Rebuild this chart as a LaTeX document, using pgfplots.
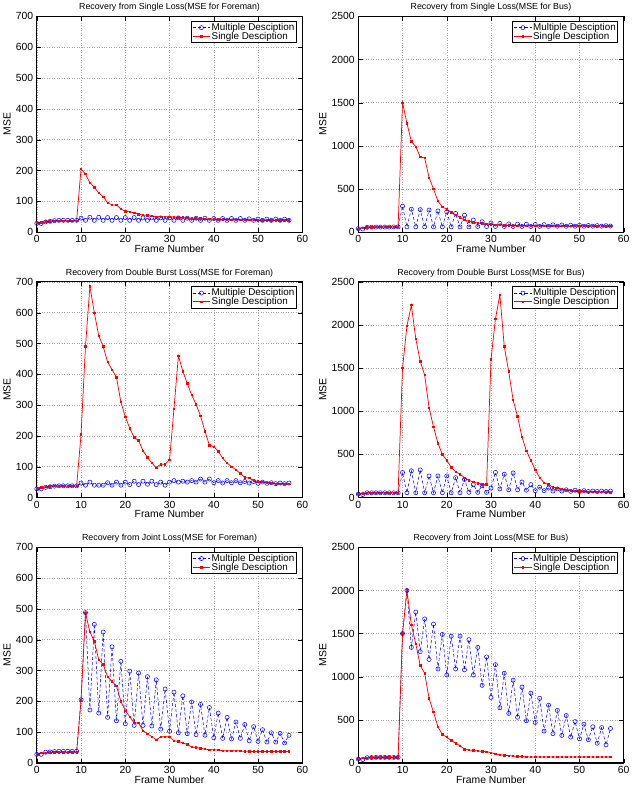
\documentclass[border=0pt]{standalone}
\usepackage{fontspec}
\setmainfont{Liberation Sans}
\usepackage{pgfplots}
\usepackage{pgfplotstable}
\pgfplotsset{compat=1.18}
\usepgfplotslibrary{groupplots}
\pgfplotstableread{
x md sd
0 28 30
1 28 32
2 33 34
3 35 35
4 37 36
5 38 37
6 38 37
7 38 37
8 38 37
9 38 37
10 45 205
11 38 188
12 48 160
13 38 145
14 48 127
15 38 115
16 47 95
17 38 88
18 47 88
19 38 75
20 47 67
21 38 66
22 47 62
23 38 58
24 46 55
25 38 54
26 46 52
27 38 50
28 46 50
29 38 50
30 46 50
31 38 48
32 46 48
33 38 47
34 45 46
35 38 45
36 45 45
37 38 44
38 45 43
39 38 42
40 44 42
41 38 41
42 44 41
43 38 40
44 44 40
45 38 40
46 44 40
47 38 39
48 43 39
49 38 39
50 42 38
51 38 38
52 42 38
53 38 38
54 42 38
55 38 38
56 42 38
57 38 38
}\fa
\pgfplotstableread{
x md sd
0 40 40
1 35 50
2 55 55
3 57 57
4 58 58
5 58 58
6 58 58
7 58 58
8 60 58
9 60 58
10 300 1500
11 60 1260
12 265 1050
13 60 990
14 260 870
15 60 860
16 255 630
17 60 500
18 245 360
19 60 290
20 235 265
21 60 230
22 215 200
23 60 170
24 195 140
25 60 125
26 140 115
27 65 105
28 120 100
29 65 95
30 105 90
31 65 85
32 100 82
33 65 80
34 95 78
35 65 76
36 92 75
37 65 74
38 90 73
39 65 72
40 88 72
41 66 72
42 86 71
43 66 71
44 84 71
45 67 71
46 82 71
47 67 70
48 80 70
49 68 70
50 78 70
51 68 70
52 76 70
53 68 70
54 75 70
55 68 70
56 74 70
57 70 70
}\fb
\pgfplotstableread{
x md sd
0 28 30
1 28 33
2 33 35
3 35 36
4 37 37
5 38 37
6 38 37
7 38 37
8 38 37
9 38 37
10 47 205
11 40 490
12 50 685
13 40 600
14 40 525
15 40 490
16 48 440
17 40 415
18 50 390
19 40 310
20 50 262
21 42 225
22 53 195
23 42 185
24 53 152
25 43 130
26 53 112
27 42 97
28 50 108
29 40 108
30 50 122
31 55 288
32 50 460
33 53 410
34 50 370
35 55 333
36 50 302
37 60 265
38 50 215
39 60 170
40 48 165
41 55 150
42 47 128
43 55 112
44 48 100
45 55 90
46 48 78
47 52 65
48 47 63
49 52 55
50 46 52
51 50 50
52 46 48
53 48 47
54 45 45
55 47 45
56 45 44
57 47 44
}\fc
\pgfplotstableread{
x md sd
0 40 40
1 35 50
2 55 55
3 55 55
4 55 55
5 55 55
6 55 55
7 55 55
8 55 55
9 55 55
10 290 1500
11 55 1990
12 310 2230
13 55 1840
14 320 1580
15 55 1420
16 250 1040
17 55 820
18 250 630
19 55 500
20 250 430
21 55 350
22 230 300
23 55 270
24 210 230
25 60 200
26 150 180
27 60 165
28 140 155
29 60 150
30 110 1600
31 290 2070
32 100 2350
33 270 1750
34 90 1460
35 285 1130
36 90 940
37 180 700
38 85 540
39 150 430
40 80 320
41 120 230
42 80 170
43 110 150
44 75 120
45 100 110
46 75 100
47 90 90
48 72 80
49 85 75
50 70 70
51 80 70
52 70 68
53 75 66
54 70 65
55 75 64
56 70 62
57 75 62
}\fd
\pgfplotstableread{
x md sd
0 28 28
1 28 32
2 35 33
3 36 34
4 37 35
5 38 35
6 38 35
7 38 35
8 38 35
9 38 35
10 205 205
11 488 488
12 172 425
13 450 395
14 162 335
15 425 320
16 148 280
17 377 265
18 137 250
19 330 200
20 127 170
21 298 150
22 122 130
23 292 130
24 122 105
25 280 95
26 120 85
27 270 75
28 110 85
29 240 85
30 103 85
31 230 72
32 98 70
33 218 65
34 95 60
35 198 52
36 92 50
37 190 48
38 90 45
39 180 43
40 82 43
41 162 42
42 80 40
43 148 40
44 78 40
45 133 40
46 80 39
47 125 38
48 72 38
49 118 37
50 70 37
51 108 37
52 68 37
53 98 37
54 68 37
55 96 37
56 65 37
57 90 37
}\fe
\pgfplotstableread{
x md sd
0 45 45
1 40 60
2 62 62
3 63 63
4 65 65
5 65 65
6 65 65
7 65 65
8 65 65
9 65 65
10 1500 1500
11 2000 2000
12 1340 1600
13 1750 1380
14 1290 1130
15 1670 1040
16 1200 750
17 1610 590
18 1090 420
19 1490 330
20 1020 300
21 1470 260
22 1090 230
23 1470 200
24 1080 160
25 1430 150
26 1020 145
27 1340 140
28 900 135
29 1230 130
30 760 120
31 1140 105
32 640 95
33 1040 90
34 575 85
35 960 80
36 530 78
37 880 75
38 490 72
39 810 70
40 470 70
41 750 70
42 370 70
43 670 70
44 340 70
45 610 70
46 320 70
47 550 70
48 300 70
49 480 70
50 280 70
51 450 70
52 270 70
53 420 70
54 230 70
55 410 70
56 210 70
57 400 70
}\ff
\begin{document}
\begin{tikzpicture}[font=\fontsize{10}{11.5}\selectfont]
\pgfplotsset{every axis/.append style={
  scale only axis, width=256pt, height=208pt,
  xmin=0, xmax=60, ymin=0,
  xtick={0,10,...,60},
  grid=major, grid style={dotted, gray!70, line width=0.5pt},
  axis line style={line width=1pt},
  tick align=inside, tick style={black},
  /pgf/number format/assume math mode=true,
  /pgf/number format/set thousands separator={},
  title style={yshift=-5pt, font=\fontsize{8.5}{10}\selectfont},
  xlabel={Frame Number}, ylabel={MSE},
  xlabel style={yshift=5pt}, ylabel style={yshift=-2pt},
  legend style={at={(0.98,0.98)}, anchor=north east, draw=black, line width=1pt, inner sep=1pt, nodes={inner sep=1pt}, legend cell align=left, row sep=-2pt, font=\fontsize{9.5}{10}\selectfont},
  scaled ticks=false,
}}
\pgfplotsset{md/.style={blue, densely dashed, mark=o, mark size=2pt, mark options={solid}, line width=0.5pt},
  sd/.style={red, line width=0.7pt, mark=square*, mark size=0.7pt}}
\begin{groupplot}[group style={group size=2 by 3, horizontal sep=54pt, vertical sep=48pt}]
\nextgroupplot[title={Recovery from Single Loss(MSE for Foreman)}, ymax=700, ytick={0,100,...,700}]
\addplot[md] table[x=x,y=md]{\fa};
\addplot[sd] table[x=x,y=sd]{\fa};
\legend{Multiple Desciption, Single Desciption}
\nextgroupplot[title={Recovery from Single Loss(MSE for Bus)}, ymax=2500, ytick={0,500,...,2500}]
\addplot[md] table[x=x,y=md]{\fb};
\addplot[sd] table[x=x,y=sd]{\fb};
\legend{Multiple Desciption, Single Desciption}
\nextgroupplot[title={Recovery from Double Burst Loss(MSE for Foreman)}, ymax=700, ytick={0,100,...,700}]
\addplot[md] table[x=x,y=md]{\fc};
\addplot[sd] table[x=x,y=sd]{\fc};
\legend{Multiple Desciption, Single Desciption}
\nextgroupplot[title={Recovery from Double Burst Loss(MSE for Bus)}, ymax=2500, ytick={0,500,...,2500}]
\addplot[md] table[x=x,y=md]{\fd};
\addplot[sd] table[x=x,y=sd]{\fd};
\legend{Multiple Desciption, Single Desciption}
\nextgroupplot[title={Recovery from Joint Loss(MSE for Foreman)}, ymax=700, ytick={0,100,...,700}]
\addplot[md] table[x=x,y=md]{\fe};
\addplot[sd] table[x=x,y=sd]{\fe};
\legend{Multiple Desciption, Single Desciption}
\nextgroupplot[title={Recovery from Joint Loss(MSE for Bus)}, ymax=2500, ytick={0,500,...,2500}]
\addplot[md] table[x=x,y=md]{\ff};
\addplot[sd] table[x=x,y=sd]{\ff};
\legend{Multiple Desciption, Single Desciption}
\end{groupplot}
\end{tikzpicture}
\end{document}
